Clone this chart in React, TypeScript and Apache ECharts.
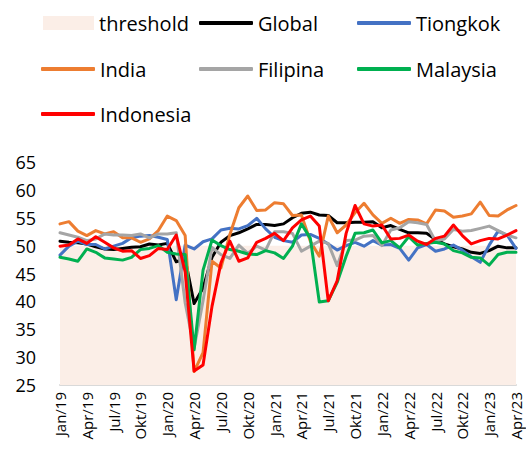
import React, { useEffect, useRef } from "react";
import * as echarts from "echarts";

const months = ["Jan", "Feb", "Mar", "Apr", "Mei", "Jun", "Jul", "Agu", "Sep", "Okt", "Nov", "Des"];
const categories: string[] = [];
for (let y = 19; y <= 23; y++) {
  for (let m = 0; m < 12; m++) {
    if (y === 23 && m > 3) break;
    categories.push(`${months[m]}/${y}`);
  }
}

const thresholdValue = 50;

const globalPMI = [
  50.8, 50.6, 50.5, 50.3, 49.8, 49.4, 49.3, 49.5, 49.7, 49.8, 50.3, 50.1,
  50.4, 47.1, 47.6, 39.6, 42.4, 47.9, 50.6, 51.8, 52.3, 53.0, 53.8, 53.8,
  53.6, 53.9, 55.0, 55.8, 56.0, 55.5, 55.4, 54.1, 54.1, 54.2, 54.2, 54.3,
  53.2, 53.6, 52.9, 52.3, 52.3, 52.2, 51.1, 50.3, 49.8, 49.4, 48.8, 48.6,
  49.1, 49.9, 49.6, 49.6,
];

const tiongkok = [
  48.3, 49.9, 50.8, 50.2, 50.2, 49.4, 49.9, 50.4, 51.4, 51.7, 51.8, 51.5,
  51.1, 40.3, 50.1, 49.4, 50.7, 51.2, 52.8, 53.1, 53.0, 53.6, 54.9, 53.0,
  51.5, 50.9, 50.6, 51.9, 52.0, 51.3, 50.3, 49.2, 50.0, 50.6, 49.9, 50.9,
  50.1, 50.2, 49.5, 47.4, 49.6, 50.2, 49.0, 49.4, 50.1, 49.2, 48.0, 47.0,
  50.1, 52.6, 51.9, 49.5,
];

const india = [
  53.9, 54.3, 52.6, 51.8, 52.7, 52.1, 52.5, 51.4, 51.4, 50.6, 51.2, 52.7,
  55.3, 54.5, 51.8, 27.4, 30.8, 47.2, 46.0, 52.0, 56.8, 58.9, 56.3, 56.4,
  57.7, 57.5, 55.4, 55.5, 50.8, 48.1, 55.3, 52.3, 53.7, 55.9, 57.6, 55.5,
  54.0, 54.9, 54.0, 54.7, 54.6, 53.9, 56.4, 56.2, 55.1, 55.3, 55.7, 57.8,
  55.4, 55.3, 56.4, 57.2,
];

const filipina = [
  52.3, 51.9, 51.5, 50.9, 51.2, 52.1, 51.9, 51.9, 51.8, 52.1, 51.4, 52.1,
  52.1, 52.3, 39.7, 31.6, 40.1, 49.7, 48.4, 47.7, 50.1, 48.6, 49.9, 49.2,
  52.5, 52.5, 52.2, 49.0, 49.9, 50.8, 50.4, 46.4, 50.9, 51.0, 51.7, 51.8,
  50.0, 52.8, 53.2, 54.3, 54.1, 53.8, 50.8, 51.2, 52.9, 52.6, 52.7, 53.1,
  53.5, 52.7, 51.9, 51.4,
];

const malaysia = [
  47.9, 47.6, 47.2, 49.4, 48.8, 47.8, 47.6, 47.4, 47.9, 49.3, 49.5, 50.0,
  48.8, 48.5, 48.4, 31.3, 45.6, 51.0, 50.0, 49.3, 49.0, 48.5, 48.4, 49.1,
  48.7, 47.7, 49.9, 53.9, 51.3, 39.9, 40.1, 43.4, 48.1, 52.2, 52.3, 52.8,
  50.5, 50.9, 49.6, 51.6, 50.1, 50.4, 50.6, 50.3, 49.1, 48.7, 47.9, 47.8,
  46.5, 48.4, 48.8, 48.8,
];

const indonesia = [
  49.9, 50.1, 51.2, 50.4, 51.6, 50.6, 49.6, 49.0, 49.1, 47.7, 48.2, 49.5,
  49.3, 51.9, 45.3, 27.5, 28.6, 39.1, 46.9, 50.8, 47.2, 47.8, 50.6, 51.3,
  52.2, 50.9, 53.2, 54.6, 55.3, 53.5, 40.1, 43.7, 52.2, 57.2, 53.9, 53.5,
  53.7, 51.2, 51.3, 51.9, 50.8, 50.2, 51.3, 51.7, 53.7, 51.8, 50.3, 50.9,
  51.3, 51.2, 51.9, 52.7,
];

const FONT = "Open Sans";

export default function App() {
  const ref = useRef<HTMLDivElement>(null);
  useEffect(() => {
    if (!ref.current) return;
    const chart = echarts.init(ref.current, null, { renderer: "svg" });

    const lineSeries = [
      { name: "Global", data: globalPMI, color: "#000000" },
      { name: "Tiongkok", data: tiongkok, color: "#4472C4" },
      { name: "India", data: india, color: "#ED7D31" },
      { name: "Filipina", data: filipina, color: "#A5A5A5" },
      { name: "Malaysia", data: malaysia, color: "#00B050" },
      { name: "Indonesia", data: indonesia, color: "#FF0000" },
    ];

    const legendPos: Record<string, [number, number]> = {
      threshold: [43, 13],
      Global: [199, 13],
      Tiongkok: [357, 13],
      India: [41, 59],
      Filipina: [199, 59],
      Malaysia: [357, 59],
      Indonesia: [41, 104],
    };

    const legends = Object.keys(legendPos).map((name) => ({
      data: [name],
      left: legendPos[name][0],
      top: legendPos[name][1],
      padding: 0,
      itemGap: 0,
      itemWidth: name === "threshold" ? 51 : 54,
      itemHeight: name === "threshold" ? 14 : 4,
      icon: name === "threshold" ? "rect" : "roundRect",
      selectedMode: false,
      textStyle: { fontSize: 20, color: "#000", fontFamily: FONT },
    }));

    chart.setOption({
      animation: false,
      backgroundColor: "#fff",
      legend: legends,
      grid: { left: 60, right: 10, top: 162, bottom: 66, containLabel: false, outerBoundsMode: "none" },
      xAxis: {
        type: "category",
        data: categories,
        boundaryGap: false,
        axisLine: { show: true, lineStyle: { color: "#D9D9D9", width: 2 } },
        axisTick: { show: false },
        axisLabel: {
          interval: 2,
          rotate: 90,
          fontSize: 15,
          color: "#000",
          fontFamily: FONT,
          margin: 7,
        },
        splitLine: { show: false },
      },
      yAxis: {
        type: "value",
        min: 25,
        max: 65,
        interval: 5,
        axisLine: { show: false },
        axisTick: { show: false },
        splitLine: { show: false },
        axisLabel: { fontSize: 18, color: "#000", fontFamily: FONT, margin: 24 },
      },
      series: [
        {
          name: "threshold",
          type: "line",
          data: categories.map(() => thresholdValue),
          symbol: "none",
          color: "#FBEEE7",
          itemStyle: { color: "#FBEEE7" },
          lineStyle: { width: 0, opacity: 0 },
          areaStyle: { color: "#FBEEE7", opacity: 1 },
          silent: true,
          z: 1,
        },
        ...lineSeries.map((s) => ({
          name: s.name,
          type: "line",
          data: s.data,
          symbol: "none",
          color: s.color,
          itemStyle: { color: s.color },
          lineStyle: { color: s.color, width: 3, cap: "round", join: "round" },
          z: 2,
        })),
      ],
    });
    return () => chart.dispose();
  }, []);
  return (
    <div
      ref={ref}
      style={{ position: "fixed", left: 0, top: 0, width: 526, height: 451 }}
    />
  );
}
